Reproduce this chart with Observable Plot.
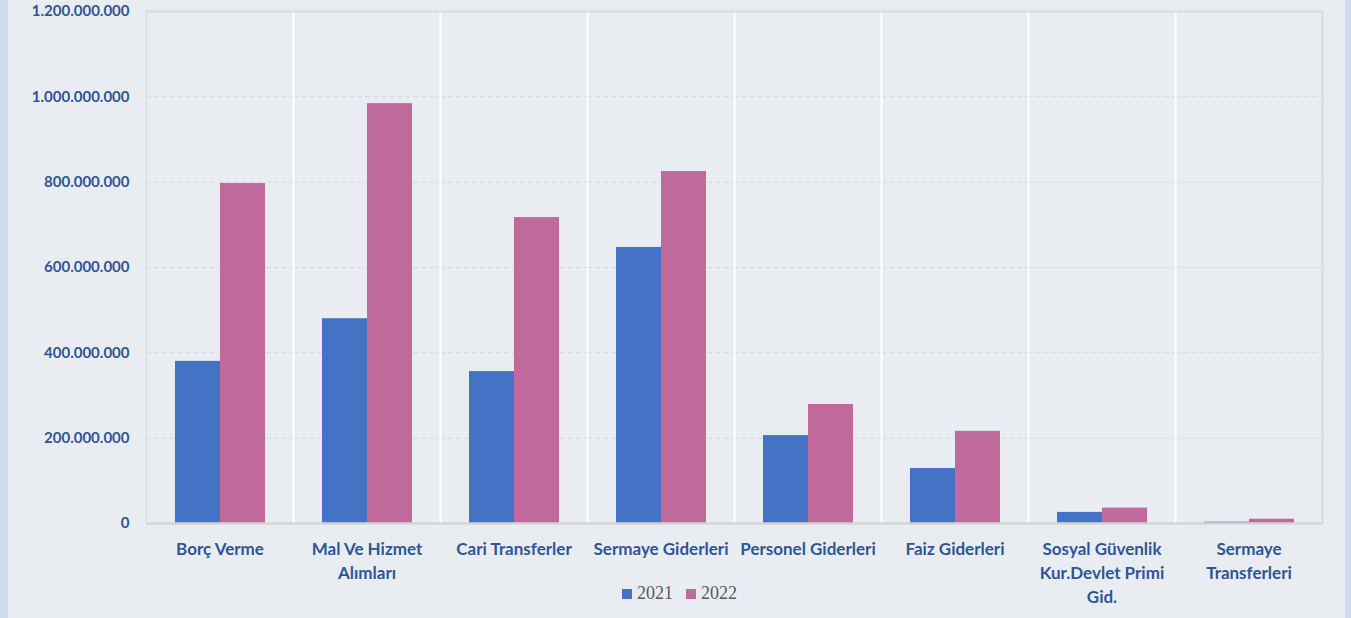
<!DOCTYPE html>
<html>
<head>
<meta charset="utf-8">
<script src="https://cdn.jsdelivr.net/npm/d3@7"></script>
<script src="https://cdn.jsdelivr.net/npm/@observablehq/plot@0.6"></script>
<style>
  html, body { margin: 0; padding: 0; }
  body { width: 1351px; height: 618px; overflow: hidden; background: #e9edf1; }
  #wrap { position: relative; box-sizing: border-box; width: 1351px; height: 618px;
          border-left: 8px solid #cfdcef; border-right: 6px solid #cfdcef; background: #e9edf1; }
  #legend { position: absolute; left: 0; right: 0; top: 583px; display: flex; justify-content: center;
            gap: 13px; font-family: "Liberation Serif", "DejaVu Serif", serif; font-size: 18px; color: #595959;
            padding-left: 6px; }
  #legend .item { display: flex; align-items: center; gap: 5px; }
  #legend .sw { width: 10px; height: 10px; display: inline-block; }
</style>
</head>
<body>
<div id="wrap"><div id="chart"></div><div id="legend"></div></div>
<script>
const categories = ["Borç Verme","Mal Ve Hizmet Alımları","Cari Transferler","Sermaye Giderleri","Personel Giderleri","Faiz Giderleri","Sosyal Güvenlik Kur.Devlet Primi Gid.","Sermaye Transferleri"];
const categoryLabels = ["Borç Verme","Mal Ve Hizmet\nAlımları","Cari Transferler","Sermaye Giderleri","Personel Giderleri","Faiz Giderleri","Sosyal Güvenlik\nKur.Devlet Primi\nGid.","Sermaye\nTransferleri"];
const years = ["2021","2022"];
const values2021 = [380e6, 480e6, 356e6, 647e6, 206e6, 129e6, 26e6, 3e6];
const values2022 = [797e6, 984e6, 717e6, 825e6, 279e6, 216e6, 36e6, 10e6];
const yTicks = [0, 200e6, 400e6, 600e6, 800e6, 1000e6, 1200e6];
const colors = ["#4472c4", "#c0699b"];

const data = [];
categories.forEach((c, i) => {
  data.push({cat: c, year: years[0], value: values2021[i]});
  data.push({cat: c, year: years[1], value: values2022[i]});
});
const labelOf = new Map(categories.map((c, i) => [c, categoryLabels[i]]));
const fmt = d3.formatLocale({decimal: ",", thousands: ".", grouping: [3], currency: ["", ""]}).format(",d");

const axisColor = "#2f5597";
const chart = Plot.plot({
  width: 1337,
  height: 618,
  marginLeft: 138,
  marginRight: 23,
  marginTop: 11,
  marginBottom: 95,
  style: {fontFamily: "Lato, sans-serif", background: "transparent", overflow: "visible"},
  fx: {domain: categories, padding: 0, label: null},
  x: {domain: years, paddingInner: 0, paddingOuter: 0.615, axis: null},
  y: {domain: [0, 1200e6], axis: null, label: null},
  color: {domain: years, range: colors},
  marks: [
    Plot.gridY(yTicks.slice(1, -1), {stroke: "#d4d8dc", strokeOpacity: 1, strokeDasharray: "5,3"}),
    Plot.frame({anchor: "left", stroke: "#ffffff", strokeWidth: 2}),
    Plot.frame({anchor: "left", facetAnchor: "left", stroke: "#d9dbde", strokeWidth: 2}),
    Plot.frame({anchor: "right", facetAnchor: "right", stroke: "#d9dbde", strokeWidth: 2}),
    Plot.ruleY([1200e6], {stroke: "#d9dbde", strokeWidth: 2}),
    Plot.barY(data, {fx: "cat", x: "year", y: "value", fill: "year"}),
    Plot.ruleY([0], {stroke: "#d4d4d4", strokeWidth: 2.5}),
    Plot.axisY(yTicks, {tickSize: 0, tickPadding: 17, tickFormat: fmt, fontSize: 15, fontWeight: "bold", fill: axisColor, label: null}),
    Plot.axisFx({anchor: "bottom", tickSize: 0, tickPadding: 14, tickFormat: d => labelOf.get(d), fontSize: 17, fontWeight: "bold", fill: axisColor, lineHeight: 1.42, label: null})
  ]
});
document.getElementById("chart").appendChild(chart);

const legend = document.getElementById("legend");
years.forEach((y, i) => {
  const item = document.createElement("span");
  item.className = "item";
  const sw = document.createElement("span");
  sw.className = "sw";
  sw.style.background = colors[i];
  item.appendChild(sw);
  item.appendChild(document.createTextNode(y));
  legend.appendChild(item);
});
</script>
</body>
</html>
